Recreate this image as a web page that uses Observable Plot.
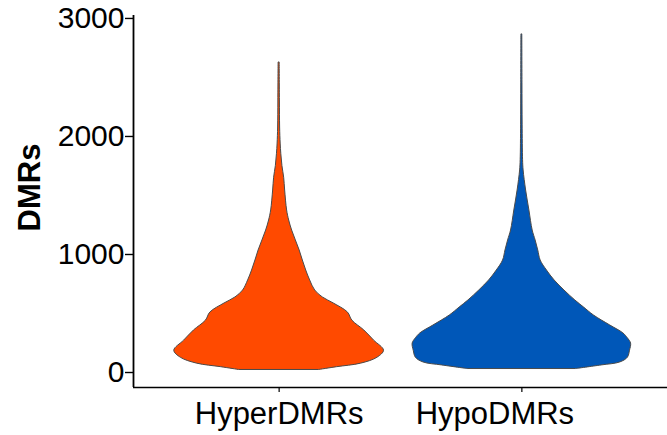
<!DOCTYPE html>
<html>
<head>
<meta charset="utf-8">
<script src="https://cdn.jsdelivr.net/npm/d3@7"></script>
<script src="https://cdn.jsdelivr.net/npm/@observablehq/plot@0.6"></script>
<style>
  html, body { margin: 0; padding: 0; background: #fff; }
  #chart svg { display: block; }
</style>
</head>
<body>
<div id="chart"></div>
<script>
const categories = ["HyperDMRs", "HypoDMRs"];
const yTicks = [0, 1000, 2000, 3000];

// Violin profiles: DMR value and relative density
const hyperValues  = [22, 45, 75, 125, 185, 270, 356, 440, 508, 585, 636, 695, 780, 864, 949, 1034, 1119, 1203, 1288, 1373, 1542, 1650, 1750, 1850, 1940, 2076, 2305, 2627];
const hyperDensity = [0.37, 0.53, 0.75, 0.90, 0.96, 0.87, 0.78, 0.67, 0.63, 0.50, 0.40, 0.33, 0.284, 0.248, 0.217, 0.188, 0.153, 0.119, 0.092, 0.073, 0.055, 0.046, 0.03, 0.02, 0.014, 0.009, 0.007, 0.005];

const hypoValues  = [30, 60, 85, 125, 185, 245, 290, 331, 398, 483, 550, 610, 695, 780, 864, 949, 1034, 1119, 1203, 1373, 1542, 1712, 1800, 2100, 2450, 2865];
const hypoDensity = [0.50, 0.73, 0.90, 0.97, 0.99, 1.0, 0.97, 0.93, 0.81, 0.66, 0.57, 0.49, 0.39, 0.30, 0.23, 0.172, 0.15, 0.126, 0.099, 0.069, 0.039, 0.016, 0.011, 0.007, 0.0055, 0.004];

const colors = ["#FF4A00", "#0057B8"];

const rows = [
  ...hyperValues.map((v, i) => ({cat: categories[0], value: v, density: hyperDensity[i]})),
  ...hypoValues.map((v, i) => ({cat: categories[1], value: v, density: hypoDensity[i]}))
];
const pos = c => categories.indexOf(c) + 1;
const halfWidth = 0.45;

const chart = Plot.plot({
  width: 667,
  height: 435,
  marginLeft: 133,
  marginRight: 0,
  marginTop: 15,
  marginBottom: 48,
  style: {fontFamily: "'Liberation Sans', Arial, sans-serif", background: "#fff", color: "#000"},
  x: {domain: [0.4, 2.6], label: null},
  y: {domain: [-127, 3025], label: null},
  marks: [
    ...categories.map((c, k) =>
      Plot.areaX(rows.filter(d => d.cat === c), {
        y: "value",
        x1: d => pos(d.cat) - d.density * halfWidth,
        x2: d => pos(d.cat) + d.density * halfWidth,
        fill: colors[k],
        stroke: "#4a4a4a",
        strokeWidth: 1,
        curve: "catmull-rom"
      })
    ),
    Plot.ruleX([0.4], {stroke: "#000", strokeWidth: 1.8}),
    Plot.ruleY([-127], {stroke: "#000", strokeWidth: 1.6}),
    Plot.axisY(yTicks, {tickSize: 8, tickPadding: 1, fontSize: 30, strokeWidth: 1.4, tickFormat: d => String(d), label: null}),
    Plot.axisX([1, 2], {tickSize: 5, strokeWidth: 1.2, tickFormat: () => "", label: null}),
    Plot.axisX([1], {tickSize: 0, tickPadding: 14, fontSize: 31, tickFormat: i => categories[i - 1], label: null}),
    Plot.axisX([2], {tickSize: 0, tickPadding: 14, fontSize: 31, dx: -27, tickFormat: i => categories[i - 1], label: null}),
    Plot.text(["DMRs"], {frameAnchor: "left", textAnchor: "middle", dx: -103, dy: -14, rotate: -90, fontSize: 31, fontWeight: "bold", fill: "#000"})
  ]
});
document.getElementById("chart").appendChild(chart);
</script>
</body>
</html>
